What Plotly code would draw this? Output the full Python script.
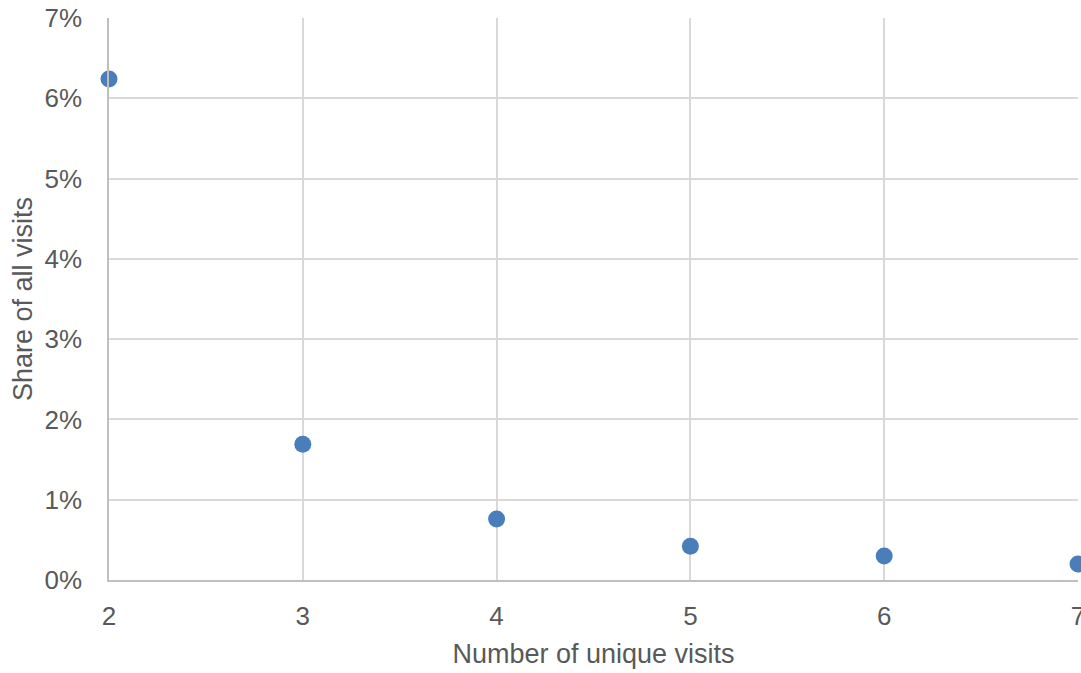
import plotly.graph_objects as go

unique_visits = [2, 3, 4, 5, 6, 7]
share_of_visits = [0.0624, 0.0169, 0.0076, 0.0042, 0.0030, 0.0020]

x_ticks = [2, 3, 4, 5, 6, 7]
y_ticks = [0, 0.01, 0.02, 0.03, 0.04, 0.05, 0.06, 0.07]

fig = go.Figure()
fig.add_trace(go.Scatter(
    x=unique_visits, y=share_of_visits, mode="markers",
    marker=dict(size=17, color="#4a7ebb"),
    cliponaxis=False, showlegend=False, hoverinfo="skip",
))

font_family = "Liberation Sans, Arial, Helvetica, sans-serif"
fig.update_layout(
    width=1081, height=673,
    margin=dict(l=109, r=3, t=18, b=93, autoexpand=False),
    paper_bgcolor="white", plot_bgcolor="white",
    font=dict(family=font_family, size=26, color="#595959"),
)
fig.update_xaxes(
    range=[2, 7], tickvals=x_ticks, ticktext=[str(v) for v in x_ticks],
    showgrid=True, gridcolor="#d9d9d9", gridwidth=1.5,
    showline=True, linecolor="#bfbfbf", linewidth=1.5,
    zeroline=False, ticks="", ticklabelstandoff=12,
    ticklabeloverflow="allow", automargin=False,
    title=dict(text="Number of unique visits", standoff=14,
               font=dict(size=27, color="#595959")),
)
fig.update_yaxes(
    range=[0, 0.07], tickvals=y_ticks, tickformat=".0%",
    showgrid=True, gridcolor="#d9d9d9", gridwidth=1.5,
    showline=True, linecolor="#bfbfbf", linewidth=1.5,
    zeroline=False, ticks="", ticklabelstandoff=20,
    ticklabeloverflow="allow", automargin=False,
    title=dict(text="Share of all visits", standoff=4,
               font=dict(size=27, color="#595959")),
)

post = (
    "document.documentElement.style.overflow='hidden';"
    "document.body.style.margin='0';"
    "document.body.style.overflow='hidden';"
)
fig.write_html("out.html", config={"displayModeBar": False}, post_script=post)
